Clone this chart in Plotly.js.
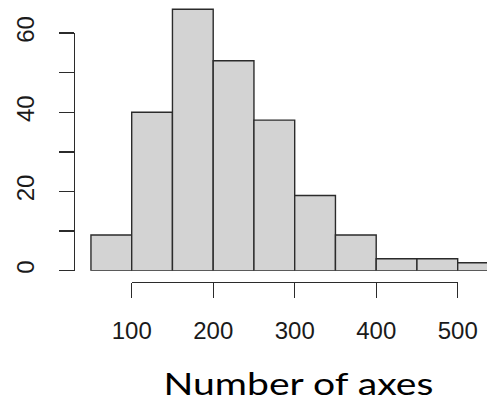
<!DOCTYPE html>
<html>
<head>
<meta charset="utf-8">
<script src="https://cdn.plot.ly/plotly-3.0.1.min.js"></script>
<style>html,body{margin:0;padding:0;background:#fff;}#chart{width:487px;height:402px;}</style>
</head>
<body>
<div id="chart"></div>
<script>
// Histogram bins (start of each bin) and counts
var binStarts = [50, 100, 150, 200, 250, 300, 350, 400, 450, 500];
var binWidth = 50;
var counts = [9, 40, 66, 53, 38, 19, 9, 3, 3, 2];
var xTickVals = [100, 200, 300, 400, 500];
var xTickText = ['100', '200', '300', '400', '500'];
var yTickVals = [0, 10, 20, 30, 40, 50, 60];
var yTickText = ['0', '', '20', '', '40', '', '60'];
var xTitle = 'Number of axes';

var W = 487, H = 402;
// pixel geometry of the reference
var px100 = 131.7, px500 = 457.7;
var ppu = (px500 - px100) / 400;          // pixels per x unit
var py0 = 270.7, py60 = 33.0;
var ppc = (py0 - py60) / 60;              // pixels per count

var mids = binStarts.map(function (b) { return b + binWidth / 2; });

var bars = {
  type: 'bar',
  x: mids,
  y: counts,
  width: binWidth,
  marker: { color: '#d3d3d3', line: { color: '#2b2b2b', width: 1.4 } },
  hoverinfo: 'skip',
  xaxis: 'x', yaxis: 'y'
};
var ghost = {
  type: 'scatter', mode: 'markers',
  x: mids, y: counts,
  marker: { opacity: 0 },
  hoverinfo: 'skip', showlegend: false,
  xaxis: 'x2', yaxis: 'y2'
};

var xMin = 100 - px100 / ppu;
var xMax = 100 + (W - px100) / ppu;
var yTop = py0 / ppc;

var tickFont = { family: 'Liberation Sans, Arial, sans-serif', size: 24, color: '#1a1a1a' };

var layout = {
  width: W, height: H,
  margin: { l: 0, r: 0, t: 0, b: 0, pad: 0 },
  paper_bgcolor: '#fff', plot_bgcolor: 'rgba(0,0,0,0)',
  showlegend: false,
  bargap: 0,
  xaxis: { domain: [0, 1], range: [xMin, xMax], visible: false, fixedrange: true },
  yaxis: { domain: [1 - py0 / H, 1], range: [0, yTop], visible: false, fixedrange: true },
  xaxis2: {
    domain: [px100 / W, px500 / W], range: [100, 500],
    anchor: 'free', position: 1 - 282 / H,
    showline: true, linecolor: '#2b2b2b', linewidth: 1.4,
    ticks: 'outside', ticklen: 15, tickwidth: 1.4, tickcolor: '#2b2b2b',
    tickvals: xTickVals, ticktext: xTickText, tickfont: tickFont,
    ticklabelstandoff: 12,
    showgrid: false, zeroline: false, fixedrange: true
  },
  yaxis2: {
    domain: [1 - py0 / H, 1 - py60 / H], range: [0, 60],
    anchor: 'free', position: 74 / W,
    showline: true, linecolor: '#2b2b2b', linewidth: 1.4,
    ticks: 'outside', ticklen: 15, tickwidth: 1.4, tickcolor: '#2b2b2b',
    tickvals: yTickVals, ticktext: yTickText, tickfont: tickFont, tickangle: -90,
    ticklabelstandoff: 15,
    showgrid: false, zeroline: false, fixedrange: true
  },
  annotations: [{
    text: xTitle, xref: 'paper', yref: 'paper',
    x: 298 / W, y: 1 - 383 / H, xanchor: 'center', yanchor: 'middle',
    showarrow: false,
    font: { family: 'Lato, Carlito, sans-serif', size: 30, color: '#000' }
  }]
};

Plotly.newPlot('chart', [bars, ghost], layout, { displayModeBar: false, staticPlot: true }).then(function (gd) {
  // the reference title is set in a wide humanist face: stretch it horizontally to the same width
  var t = gd.querySelector('text.annotation-text');
  if (t) {
    var bb = t.getBBox();
    var target = 270;
    var s = target / bb.width;
    var cx = bb.x + bb.width / 2;
    t.setAttribute('transform', 'translate(' + cx + ',0) scale(' + s + ',1) translate(' + (-cx) + ',0)');
  }
});
</script>
</body>
</html>
